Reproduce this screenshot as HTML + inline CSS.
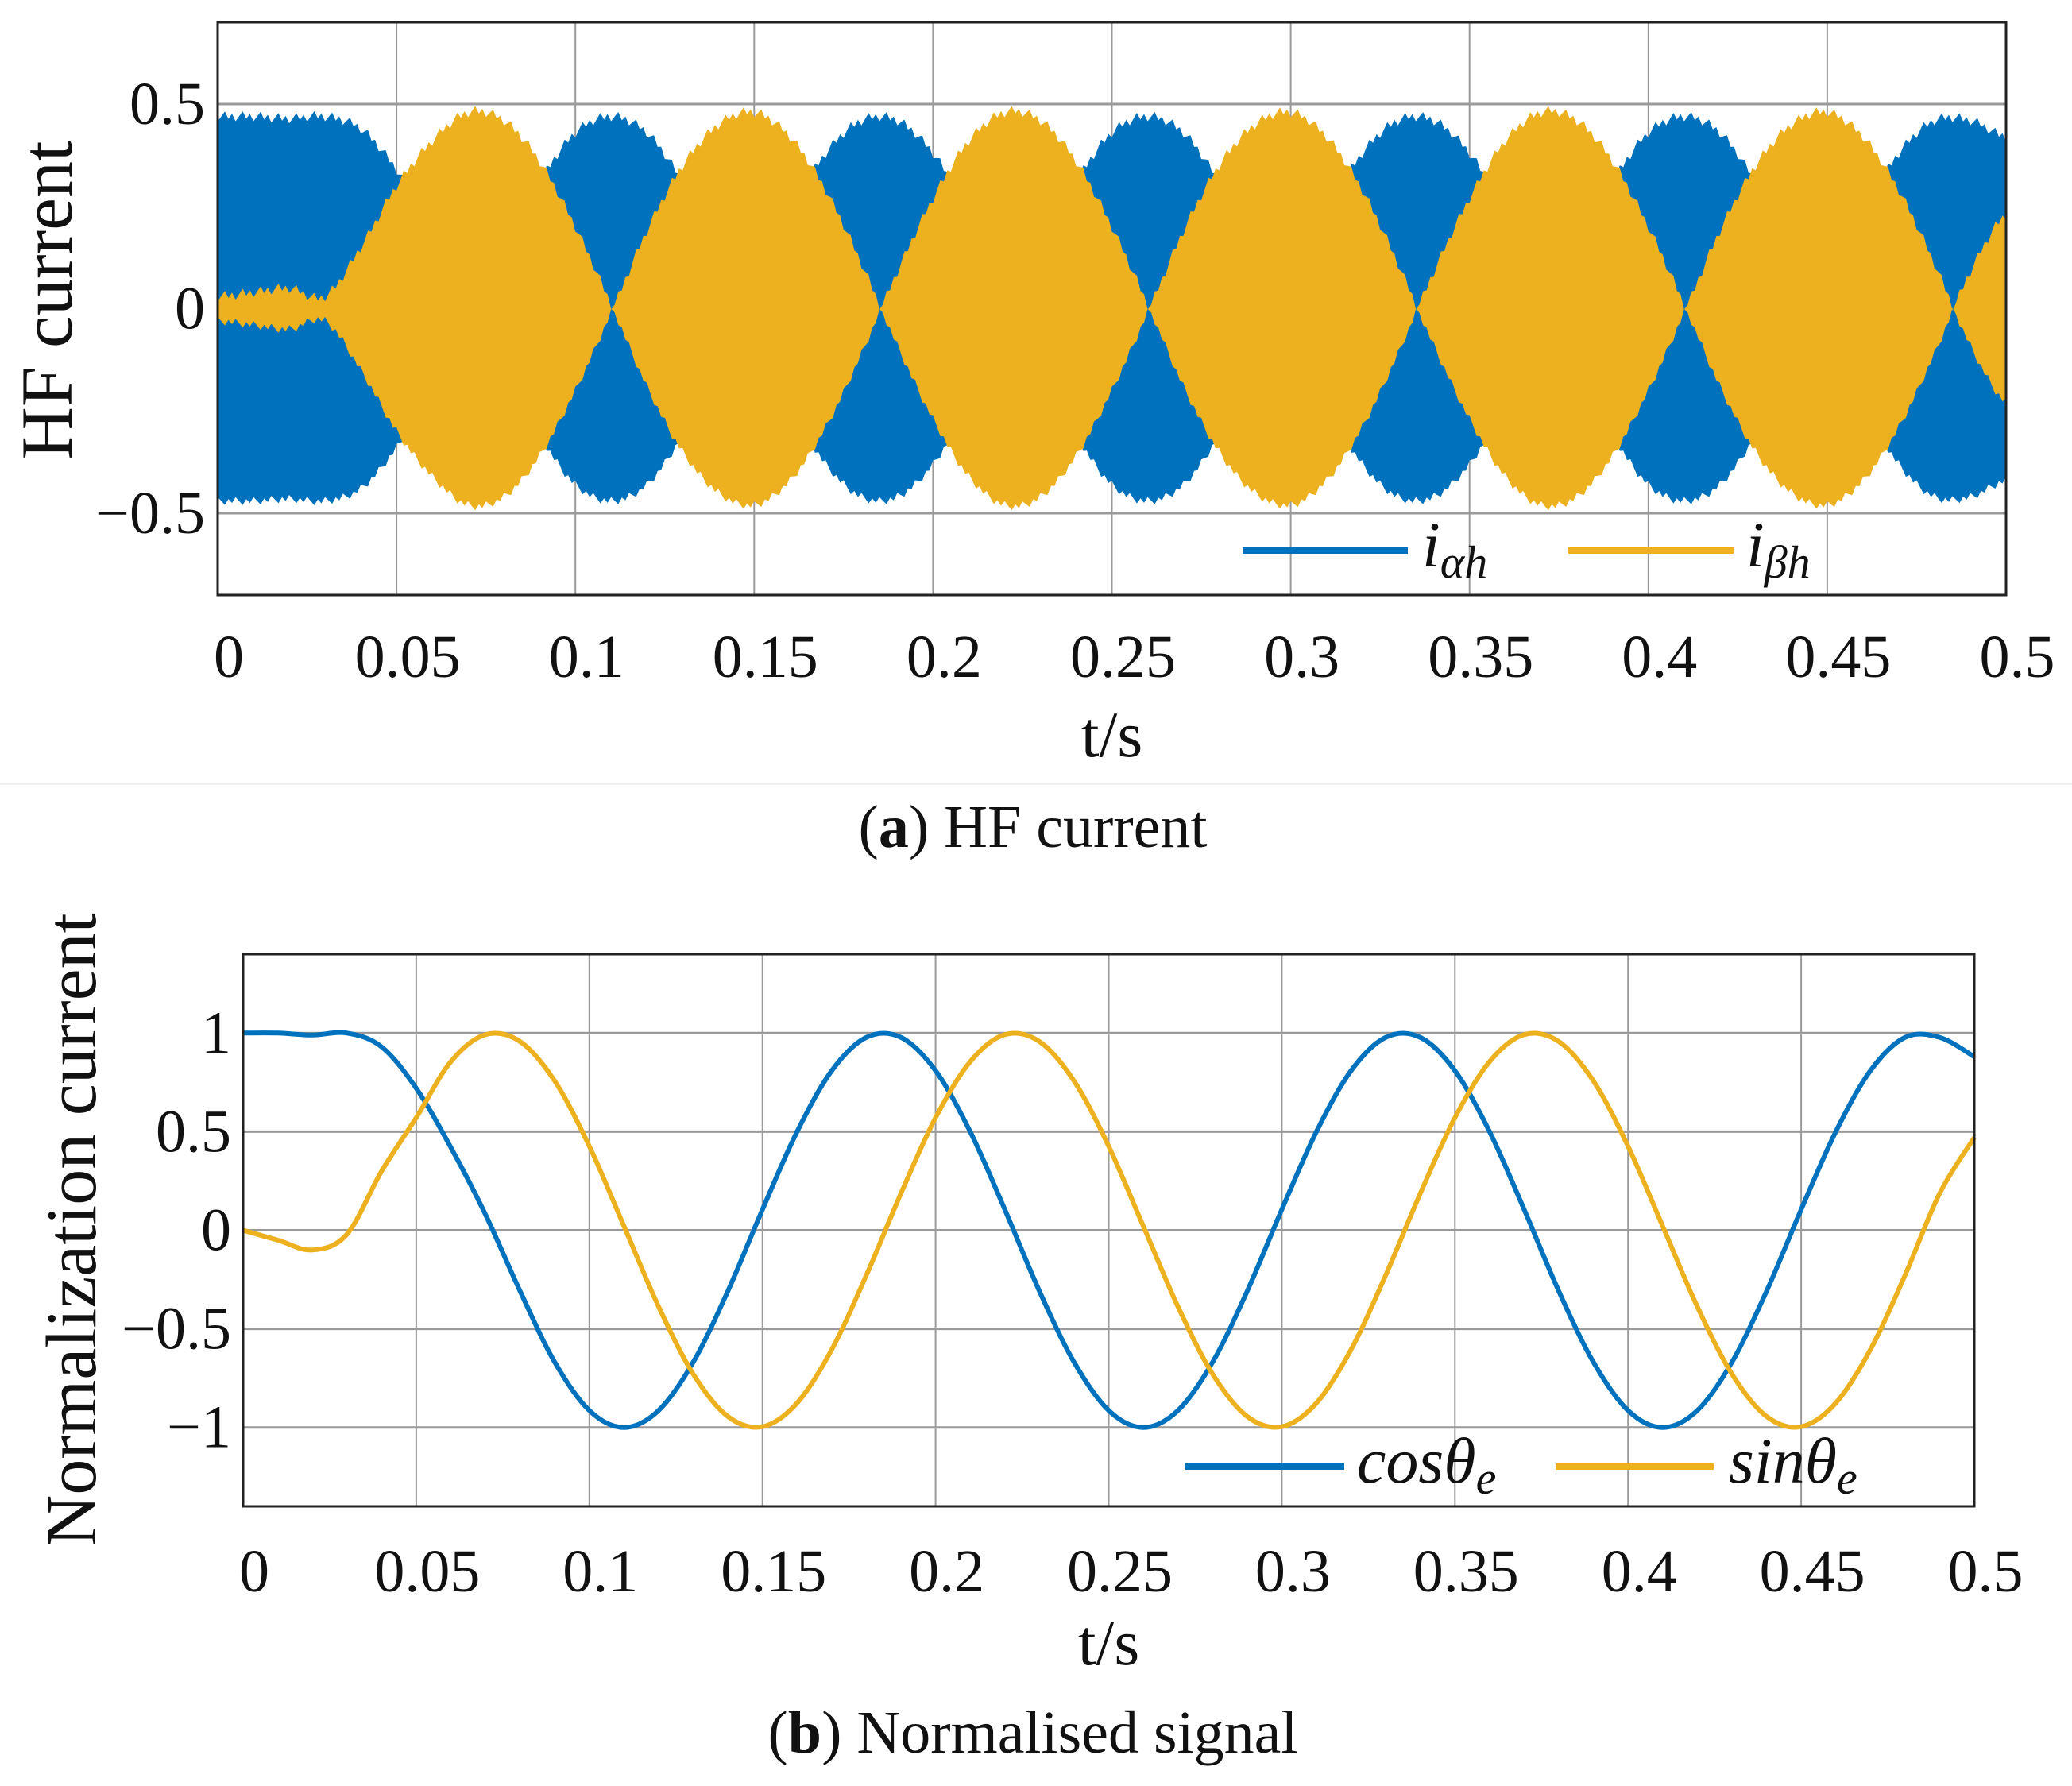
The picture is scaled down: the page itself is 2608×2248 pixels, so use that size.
<!DOCTYPE html>
<html><head><meta charset="utf-8"><style>
html,body{margin:0;padding:0;background:#fff;}
svg{display:block;}
text{font-family:"Liberation Serif","DejaVu Serif",serif;fill:#111;}
</style></head><body>
<svg id="fig" xmlns="http://www.w3.org/2000/svg" width="2608" height="2248" viewBox="0 0 2608 2248">
<rect x="0" y="0" width="2608" height="2248" fill="#fff"/>
<g id="top"></g>
<line x1="0" y1="987" x2="2608" y2="987" stroke="#f0f0f0" stroke-width="2"/>
<text x="1300" y="1066" text-anchor="middle" font-size="76">(<tspan font-weight="bold">a</tspan>) HF current</text>
<g id="bot"></g>
<text x="1300" y="2206" text-anchor="middle" font-size="76">(<tspan font-weight="bold">b</tspan>) Normalised signal</text>
</svg>
<script>
// ---- data ----
const tVals = [0,0.01,0.02,0.03,0.04,0.05,0.06,0.07,0.08,0.09,0.10,0.11,0.12,0.13,0.14,0.15,0.16,0.17,0.18,0.19,0.20,0.21,0.22,0.23,0.24,0.25,0.26,0.27,0.28,0.29,0.30,0.31,0.32,0.33,0.34,0.35,0.36,0.37,0.38,0.39,0.40,0.41,0.42,0.43,0.44,0.45,0.46,0.47,0.48,0.49,0.50];
const cosVals = [1,1,0.99,1,0.93,0.72,0.42,0.08,-0.309,-0.669,-0.914,-1,-0.914,-0.669,-0.309,0.105,0.5,0.809,0.978,0.978,0.809,0.5,0.105,-0.309,-0.669,-0.914,-1,-0.914,-0.669,-0.309,0.105,0.5,0.809,0.978,0.978,0.809,0.5,0.105,-0.309,-0.669,-0.914,-1,-0.914,-0.669,-0.309,0.105,0.5,0.809,0.978,0.978,0.88];
const sinVals = [0,-0.05,-0.1,-0.02,0.3,0.571,0.855,0.992,0.957,0.757,0.426,0.021,-0.387,-0.729,-0.944,-0.996,-0.876,-0.605,-0.228,0.187,0.571,0.855,0.992,0.957,0.757,0.426,0.021,-0.387,-0.729,-0.944,-0.996,-0.876,-0.605,-0.228,0.187,0.571,0.855,0.992,0.957,0.757,0.426,0.021,-0.387,-0.729,-0.944,-0.996,-0.876,-0.605,-0.228,0.187,0.47];
const alphaSigned = [0.47,0.47,0.465,0.47,0.44,0.34,0.2,0.04,-0.145,-0.31,-0.43,-0.47,-0.43,-0.31,-0.145,0.05,0.235,0.38,0.46,0.46,0.38,0.235,0.05,-0.145,-0.31,-0.43,-0.47,-0.43,-0.31,-0.145,0.05,0.235,0.38,0.46,0.46,0.38,0.235,0.05,-0.145,-0.31,-0.43,-0.47,-0.43,-0.31,-0.145,0.05,0.235,0.38,0.46,0.46,0.42];
const betaSigned = [0.03,0.04,0.05,0.03,0.15,0.3,0.41,0.48,0.46,0.36,0.2,0.01,-0.19,-0.35,-0.45,-0.48,-0.42,-0.29,-0.11,0.09,0.27,0.41,0.48,0.46,0.36,0.2,0.01,-0.19,-0.35,-0.45,-0.48,-0.42,-0.29,-0.11,0.09,0.27,0.41,0.48,0.46,0.36,0.2,0.01,-0.19,-0.35,-0.45,-0.48,-0.42,-0.29,-0.11,0.09,0.23];
const xTicks = [0,0.05,0.1,0.15,0.2,0.25,0.3,0.35,0.4,0.45,0.5];
const xTickLabels = ["0","0.05","0.1","0.15","0.2","0.25","0.3","0.35","0.4","0.45","0.5"];
const topYTicks = [0.5,0,-0.5];
const topYTickLabels = ["0.5","0","\u22120.5"];
const botYTicks = [1,0.5,0,-0.5,-1];
const botYTickLabels = ["1","0.5","0","\u22120.5","\u22121"];

const NS="http://www.w3.org/2000/svg";
function mk(tag,attrs,parent){const e=document.createElementNS(NS,tag);for(const k in attrs)e.setAttribute(k,attrs[k]);parent.appendChild(e);return e;}
const BLUE="#0072bd", YEL="#edb120";

function axes(g,L,R,T,B,ymin,ymax,yTicks,yLabels,yLabelX,xLabY,tY,ytitle,ytX,ytY,ytFont){
  const sx=v=>L+(v-0)/(0.5-0)*(R-L);
  const sy=v=>B-(v-ymin)/(ymax-ymin)*(B-T);
  xTicks.forEach((v,i)=>{
    const l=mk('line',{x1:sx(v),x2:sx(v),y1:T,y2:B,stroke:'#9a9a9a','stroke-width':2},g);
    
    
    const t=mk('text',{x:sx(v)+14,y:xLabY,'font-size':76,'text-anchor':'middle'},g);
    t.textContent=xTickLabels[i];
    
    
  });
  yTicks.forEach((v,i)=>{
    const l=mk('line',{x1:L,x2:R,y1:sy(v),y2:sy(v),stroke:'#9a9a9a','stroke-width':3},g);
    
    
    const t=mk('text',{x:yLabelX,y:sy(v)+25,'font-size':76,'text-anchor':'end'},g);
    t.textContent=yLabels[i];
    
    
  });
  const xt=mk('text',{x:(L+R)/2,y:tY,'font-size':82,'text-anchor':'middle'},g);
  xt.textContent='t/s';
  
  
  const yt=mk('text',{x:0,y:0,'font-size':ytFont,'text-anchor':'middle',transform:`translate(${ytX},${ytY}) rotate(-90)`},g);
  yt.textContent=ytitle;
  
  
  return {sx,sy};
}
function frame(g,L,R,T,B){
  const r=mk('rect',{x:L,y:T,width:R-L,height:B-T,fill:'none',stroke:'#222','stroke-width':3},g);
  
  
}
function smoothPath(pts){
  let d=`M${pts[0][0]},${pts[0][1]}`;
  for(let i=0;i<pts.length-1;i++){
    const p0=pts[Math.max(0,i-1)],p1=pts[i],p2=pts[i+1],p3=pts[Math.min(pts.length-1,i+2)];
    const c1=[p1[0]+(p2[0]-p0[0])/6,p1[1]+(p2[1]-p0[1])/6];
    const c2=[p2[0]-(p3[0]-p1[0])/6,p2[1]-(p3[1]-p1[1])/6];
    d+=` C${c1[0]},${c1[1]} ${c2[0]},${c2[1]} ${p2[0]},${p2[1]}`;
  }
  return d;
}
// Catmull-Rom interpolation of a typed series at time t
function interp(vals,t){
  const step=tVals[1]-tVals[0];
  let i=Math.min(tVals.length-2,Math.max(0,Math.floor(t/step)));
  const u=(t-tVals[i])/step;
  const p0=vals[Math.max(0,i-1)],p1=vals[i],p2=vals[i+1],p3=vals[Math.min(vals.length-1,i+2)];
  return 0.5*((2*p1)+(-p0+p2)*u+(2*p0-5*p1+4*p2-p3)*u*u+(-p0+3*p1-3*p2+p3)*u*u*u);
}

// ---- top chart ----
(function(){
  const g=document.getElementById('top');
  const L=274,R=2525,T=28,B=749;
  const {sx,sy}=axes(g,L,R,T,B,-0.7,0.7,topYTicks,topYTickLabels,258,852,952,'HF current',90,378,92);
  function env(vals,color,name){
    const up=[],dn=[];
    const N=500;
    for(let k=0;k<=N;k++){
      const t=0.5*k/N;
      const a=Math.abs(interp(vals,t));
      const j=((k*7)%5-2)*0.006;
      up.push(`${sx(t)},${sy(a+j)}`);
      dn.unshift(`${sx(t)},${sy(-a-j*0.8)}`);
    }
    const p=mk('polygon',{points:up.concat(dn).join(' '),fill:color},g);
    
    
  }
  env(alphaSigned,BLUE,'series-i-alpha-h');
  env(betaSigned,YEL,'series-i-beta-h');
  frame(g,L,R,T,B);
  const l1=mk('line',{x1:1564,x2:1772,y1:693,y2:693,stroke:BLUE,'stroke-width':8},g);
  
  
  const t1=mk('text',{x:1790,y:713,'font-size':82,'font-style':'italic'},g);
  t1.innerHTML='i<tspan font-size="58" dy="14">αh</tspan>';
  
  
  const l2=mk('line',{x1:1974,x2:2182,y1:693,y2:693,stroke:YEL,'stroke-width':8},g);
  
  
  const t2=mk('text',{x:2198,y:713,'font-size':82,'font-style':'italic'},g);
  t2.innerHTML='i<tspan font-size="58" dy="14">βh</tspan>';
  
  
})();

// ---- bottom chart ----
(function(){
  const g=document.getElementById('bot');
  const L=306,R=2485,T=1201,B=1896;
  const {sx,sy}=axes(g,L,R,T,B,-1.4,1.4,botYTicks,botYTickLabels,291,2003,2095,'Normalization current',120,1548,90);
  const pc=smoothPath(tVals.map((t,i)=>[sx(t),sy(cosVals[i])]));
  const c=mk('path',{d:pc,fill:'none',stroke:BLUE,'stroke-width':6},g);
  
  
  const ps=smoothPath(tVals.map((t,i)=>[sx(t),sy(sinVals[i])]));
  const s=mk('path',{d:ps,fill:'none',stroke:YEL,'stroke-width':6},g);
  
  
  frame(g,L,R,T,B);
  const l1=mk('line',{x1:1492,x2:1692,y1:1846,y2:1846,stroke:BLUE,'stroke-width':8},g);
  
  
  const t1=mk('text',{x:1708,y:1866,'font-size':82,'font-style':'italic'},g);
  t1.innerHTML='cosθ<tspan font-size="58" dy="14">e</tspan>';
  
  
  const l2=mk('line',{x1:1958,x2:2157,y1:1846,y2:1846,stroke:YEL,'stroke-width':8},g);
  
  
  const t2=mk('text',{x:2176,y:1866,'font-size':82,'font-style':'italic'},g);
  t2.innerHTML='sinθ<tspan font-size="58" dy="14">e</tspan>';
  
  
})();
</script>
</body></html>
